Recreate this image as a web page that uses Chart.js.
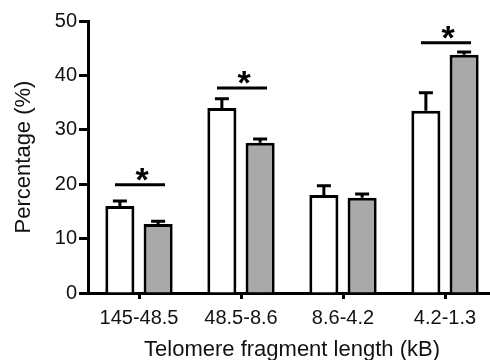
<!DOCTYPE html>
<html><head><meta charset="utf-8">
<script src="https://cdn.jsdelivr.net/npm/chart.js@4"></script>
<style>html,body{margin:0;padding:0;overflow:hidden;background:#fff}#wrap{width:500px;height:360px}</style>
</head><body><div id="wrap"><canvas id="c" width="500" height="360"></canvas></div>
<script>
const categories = ['145-48.5', '48.5-8.6', '8.6-4.2', '4.2-1.3'];
const whiteValues = [16.0, 34.0, 18.0, 33.5];
const whiteErrors = [0.9, 1.7, 1.7, 3.3];
const grayValues = [12.7, 27.6, 17.5, 43.8];
const grayErrors = [0.5, 0.7, 0.7, 0.5];
const significanceLevels = [19.9, 37.7, null, 46.0];
const yTicks = [0, 10, 20, 30, 40, 50];
const xTitle = 'Telomere fragment length (kB)';
const yTitle = 'Percentage (%)';

const FONT = '"Liberation Sans", Arial, Helvetica, sans-serif';

const annotations = {
  id: 'annotations',
  afterDatasetsDraw(chart) {
    const ctx = chart.ctx;
    const y = chart.scales.y, x = chart.scales.x;
    ctx.save();
    ctx.strokeStyle = '#000';
    ctx.lineWidth = 3;
    ctx.lineCap = 'butt';
    const errs = [whiteErrors, grayErrors];
    chart.data.datasets.forEach((ds, di) => {
      const meta = chart.getDatasetMeta(di);
      meta.data.forEach((bar, i) => {
        const top = y.getPixelForValue(ds.data[i]);
        const cap = y.getPixelForValue(ds.data[i] + errs[di][i]);
        ctx.beginPath();
        ctx.moveTo(bar.x, top);
        ctx.lineTo(bar.x, cap);
        ctx.moveTo(bar.x - 7, cap);
        ctx.lineTo(bar.x + 7, cap);
        ctx.stroke();
      });
    });
    significanceLevels.forEach((lvl, i) => {
      if (lvl === null) return;
      const cx = x.getPixelForValue(i) + 1;
      const ly = y.getPixelForValue(lvl);
      ctx.beginPath();
      ctx.moveTo(cx - 25, ly);
      ctx.lineTo(cx + 25, ly);
      ctx.stroke();
      ctx.fillStyle = '#000';
      ctx.font = 'bold 34px ' + FONT;
      ctx.textAlign = 'center';
      ctx.textBaseline = 'alphabetic';
      ctx.fillText('*', cx + 2, ly + 6);
    });
    ctx.restore();
  }
};

new Chart(document.getElementById('c'), {
  type: 'bar',
  data: {
    labels: categories,
    datasets: [
      { data: whiteValues, backgroundColor: '#ffffff', borderColor: '#000', borderWidth: 3, borderSkipped: 'start' },
      { data: grayValues, backgroundColor: '#a9a9a9', borderColor: '#000', borderWidth: 3, borderSkipped: 'start' }
    ]
  },
  options: {
    responsive: false,
    animation: false,
    devicePixelRatio: 1,
    categoryPercentage: 0.75,
    barPercentage: 0.76,
    layout: { padding: { top: 21, right: 4, left: 0, bottom: 0 } },
    plugins: { legend: { display: false }, tooltip: { enabled: false } },
    scales: {
      x: {
        offset: true,
        grid: { offset: false, drawOnChartArea: false, drawTicks: true, tickLength: 6, tickWidth: 3, tickColor: '#000' },
        border: { display: true, width: 3, color: '#000' },
        ticks: { color: '#111', font: { family: FONT, size: 20 }, padding: 7, maxRotation: 0 },
        title: { display: true, text: xTitle, color: '#111', font: { family: FONT, size: 22 }, padding: { top: 0, bottom: -3 } },
        afterFit(s) { s.height = 67; }
      },
      y: {
        min: 0, max: 50,
        afterBuildTicks(s) { s.ticks = yTicks.map(v => ({ value: v })); },
        grid: { drawOnChartArea: false, drawTicks: true, tickLength: 9, tickWidth: 3, tickColor: '#000' },
        border: { display: true, width: 3, color: '#000' },
        ticks: { color: '#111', font: { family: FONT, size: 20 }, padding: 2 },
        title: { display: true, text: yTitle, color: '#111', font: { family: FONT, size: 22 }, padding: { top: 11, bottom: 0 } },
        afterFit(s) { s.width = 88; }
      }
    }
  },
  plugins: [annotations]
});
</script>
</body></html>
